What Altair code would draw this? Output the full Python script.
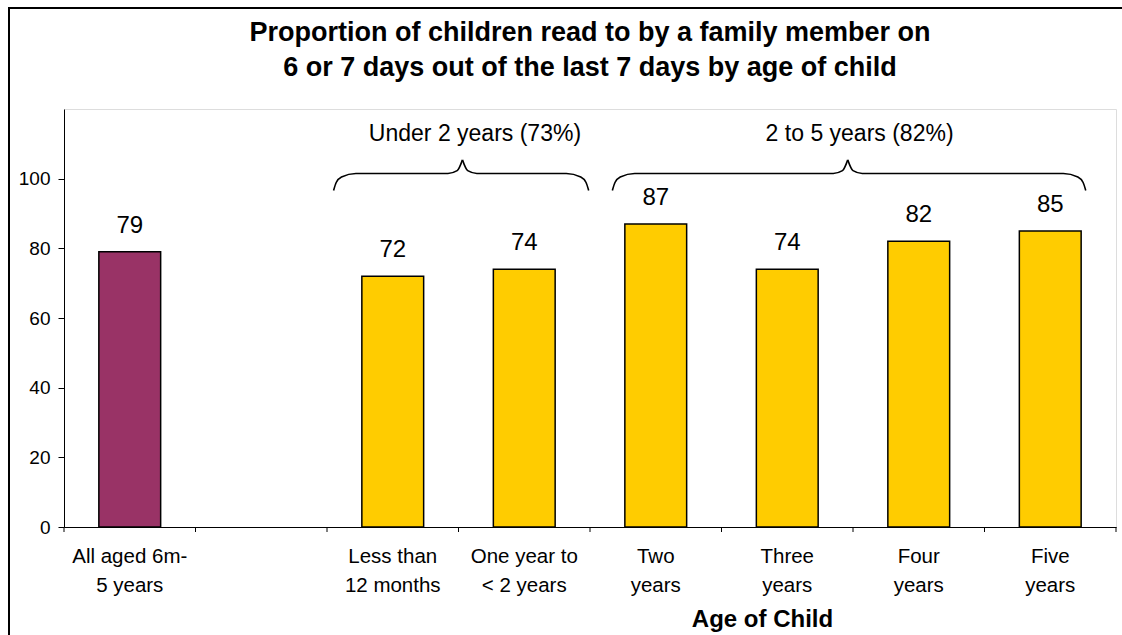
import altair as alt
import pandas as pd

# ---- data ----
slots = ["All aged 6m-|5 years", " ", "Less than|12 months", "One year to|< 2 years",
         "Two|years", "Three|years", "Four|years", "Five|years"]
bar_categories = ["All aged 6m-|5 years", "Less than|12 months", "One year to|< 2 years",
                  "Two|years", "Three|years", "Four|years", "Five|years"]
bar_values = [79, 72, 74, 87, 74, 82, 85]
bar_groups = ["All", "Age", "Age", "Age", "Age", "Age", "Age"]

group_labels = ["Under 2 years (73%)", "2 to 5 years (82%)"]
group_label_x = [3.125, 6.05]      # in category-slot units (0..8)
group_label_y = [110.8, 110.8]
brace_start = [2.05, 4.17]
brace_tip = [3.03, 5.96]
brace_end = [3.99, 7.77]
brace_low, brace_flat, brace_high = 96.6, 101.5, 105.4
slot_boundaries = [0, 1, 2, 3, 4, 5, 6, 7, 8]

title_lines = ["Proportion of children read to by a family member on",
               "6 or 7 days out of the last 7 days by age of child"]

FONT = "Liberation Sans"
W, H = 1052, 418

bars_df = pd.DataFrame({"cat": bar_categories, "value": bar_values, "group": bar_groups})
ann_df = pd.DataFrame({"label": group_labels, "x": group_label_x, "y": group_label_y})
ticks_df = pd.DataFrame({"x": slot_boundaries})

# brace outlines built from their start / tip / end (data units)
rows = []
for i, (s, t, e) in enumerate(zip(brace_start, brace_tip, brace_end)):
    left = [(s, brace_low), (s + 0.02, 98.9), (s + 0.06, 100.5), (s + 0.17, brace_flat),
            (t - 0.11, brace_flat), (t - 0.04, 102.3), (t, brace_high)]
    right = [(t, brace_high), (t + 0.04, 102.3), (t + 0.11, brace_flat), (e - 0.17, brace_flat),
             (e - 0.06, 100.5), (e - 0.02, 98.9), (e, brace_low)]
    for x, y in left:
        rows.append({"x": x, "y": y, "seg": f"{i}L"})
    for x, y in right:
        rows.append({"x": x, "y": y, "seg": f"{i}R"})
brace_df = pd.DataFrame(rows)

y_scale = alt.Scale(domain=[0, 120], nice=False)
y_axis = alt.Axis(values=[0, 20, 40, 60, 80, 100], title=None, grid=False,
                  domainColor="black", tickColor="black", tickSize=6, labelPadding=8,
                  labelFontSize=19, labelColor="black", labelFont=FONT)
qx = alt.X("x:Q", scale=alt.Scale(domain=[0, 8], nice=False, zero=False), axis=None)

band_scale = alt.Scale(domain=slots, paddingInner=0.53, paddingOuter=0.265)
x_band = alt.X(
    "cat:N",
    sort=slots,
    scale=band_scale,
    axis=alt.Axis(
        title="Age of Child", titleFontSize=24, titleFontWeight="bold", titleFont=FONT,
        titleColor="black", titleX=698, titleY=99, titleBaseline="alphabetic",
        titleAlign="center",
        labelExpr="split(datum.label, '|')", labelFontSize=20.5, labelLineHeight=29,
        labelPadding=19, labelAngle=0, labelBaseline="top", labelColor="black",
        labelFont=FONT, ticks=False, domainColor="black", grid=False,
    ),
)
x_band_noaxis = alt.X("cat:N", sort=slots, scale=band_scale, axis=None)

bars = alt.Chart(bars_df).mark_bar(stroke="black", strokeWidth=1.5).encode(
    x=x_band,
    y=alt.Y("value:Q", scale=y_scale, axis=y_axis),
    color=alt.Color("group:N", scale=alt.Scale(domain=["All", "Age"],
                                               range=["#993366", "#FFCC00"]), legend=None),
)

value_text = alt.Chart(bars_df).mark_text(
    dy=-19, baseline="alphabetic", fontSize=24, font=FONT, color="black"
).encode(
    x=x_band_noaxis,
    y=alt.Y("value:Q", scale=y_scale, axis=y_axis),
    text=alt.Text("value:Q"),
)

ann = alt.Chart(ann_df).mark_text(
    baseline="alphabetic", fontSize=23, font=FONT, color="black"
).encode(
    x=qx,
    y=alt.Y("y:Q", scale=y_scale, axis=y_axis),
    text="label:N",
)

braces = alt.Chart(brace_df).mark_line(
    color="black", strokeWidth=1.6, interpolate="monotone"
).encode(
    x=qx,
    y=alt.Y("y:Q", scale=y_scale, axis=y_axis),
    detail="seg:N",
)

x_ticks = alt.Chart(ticks_df).mark_rule(color="black", strokeWidth=1).encode(
    x=qx, y=alt.value(H), y2=alt.value(H + 5)
)

frame = alt.Chart(pd.DataFrame({"k": [0]})).mark_rect(
    fillOpacity=0, stroke="black", strokeWidth=2
).encode(
    x=alt.value(-55), x2=alt.value(W + 100), y=alt.value(-101), y2=alt.value(H + 200)
)

chart = alt.layer(frame, bars, value_text, braces, ann, x_ticks).resolve_scale(
    x="independent"
).properties(
    width=W, height=H,
    title=alt.TitleParams(text=title_lines, fontSize=27, fontWeight="bold", font=FONT,
                          lineHeight=35, offset=-75, anchor="middle", color="black"),
    autosize=alt.AutoSizeParams(type="none"),
    padding={"left": 64, "top": 109, "right": 6, "bottom": 108},
).configure_view(
    stroke="#888888", strokeWidth=1.5
).configure(background="white", font=FONT)

chart.save("out.html", embed_options={"renderer": "svg", "actions": False})
